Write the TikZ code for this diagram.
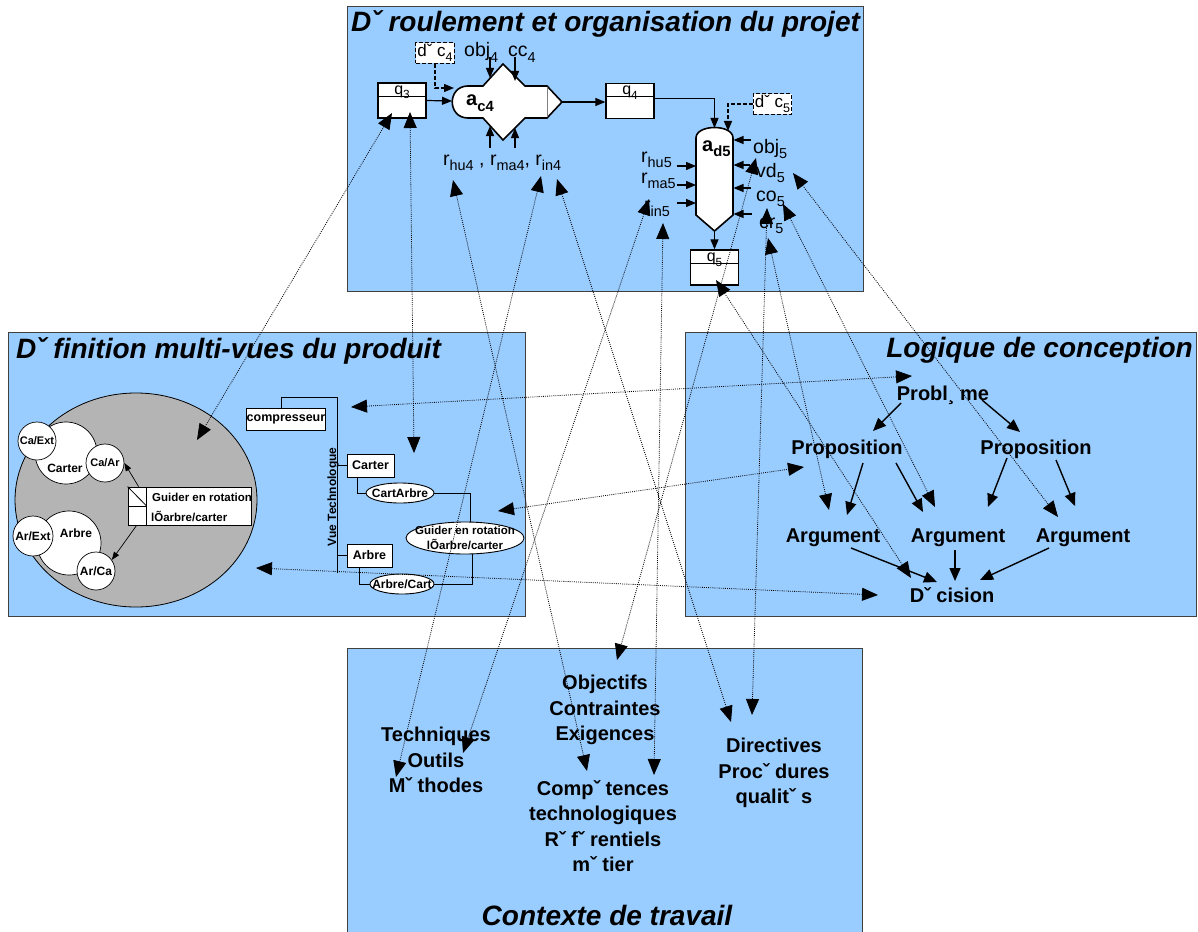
\documentclass[tikz,border=0pt]{standalone}
\usepackage{fontspec}
\setmainfont{Liberation Sans}
\usetikzlibrary{arrows.meta,shapes.geometric,calc}

\definecolor{paneblue}{HTML}{99CCFF}
\definecolor{globegray}{HTML}{B4B4B4}

\newcommand\lowsub[1]{\raisebox{-0.55ex}{\scalebox{0.74}{#1}}}

\tikzset{
  pane/.style={draw=black!75, line width=1pt, fill=paneblue},
  panetitle/.style={inner sep=0pt, font=\fontsize{28}{30}\selectfont\bfseries\itshape},
  qbox/.style={draw, fill=white, line width=1.3pt, minimum width=48pt, minimum height=35pt, inner sep=0pt},
  qlab/.style={inner sep=0pt, anchor=base, font=\fontsize{16}{16}\selectfont},
  decbox/.style={draw, fill=white, line width=1.3pt, dash pattern=on 4pt off 2pt, inner sep=1.5pt, font=\fontsize{17}{17}\selectfont},
  act/.style={draw, fill=white, line width=1.6pt, line join=miter},
  actlab/.style={inner sep=0pt, anchor=base west, font=\fontsize{20}{20}\selectfont\bfseries},
  res/.style={inner sep=0pt, anchor=base west, font=\fontsize{19.5}{19.5}\selectfont},
  flow/.style={line width=1.2pt, -{Triangle[length=10pt,width=8pt]}},
  ctl/.style={line width=1.3pt, dash pattern=on 4pt off 2pt, -{Triangle[length=10pt,width=8pt]}},
  part/.style={circle, draw, fill=white, line width=0.7pt, inner sep=0pt, font=\fontsize{11}{11}\selectfont\bfseries},
  plab/.style={inner sep=0pt, font=\fontsize{12}{12}\selectfont\bfseries},
  flab/.style={inner sep=0pt, anchor=west, font=\fontsize{11.5}{12}\selectfont\bfseries},
  thinflow/.style={line width=0.7pt, -{Triangle[length=8pt,width=6pt]}},
  tbox/.style={draw, fill=white, line width=0.9pt, inner sep=0pt, font=\fontsize{12.5}{13}\selectfont\bfseries},
  tell/.style={ellipse, draw, fill=white, line width=0.9pt, inner sep=0pt},
  tlab/.style={inner sep=0pt, font=\fontsize{12}{12}\selectfont\bfseries},
  tree/.style={line width=0.9pt},
  lword/.style={inner sep=0pt, anchor=base, font=\fontsize{20}{20}\selectfont\bfseries},
  logic/.style={line width=1.4pt, -{Triangle[length=13pt,width=11pt]}},
  ctx/.style={inner sep=0pt, align=center, font=\fontsize{20}{25.4}\selectfont\bfseries},
  link/.style={line width=0.8pt, dash pattern=on 0.9pt off 1.2pt,
    {Triangle[length=16pt,width=13pt]}-{Triangle[length=16pt,width=13pt]}}
}

\begin{document}
\begin{tikzpicture}[x=1pt,y=-1pt]
\useasboundingbox (0,0) rectangle (1198,931);

% the four panels
\draw[pane] (347,7) rectangle (863,291);
\draw[pane] (8,332) rectangle (525,616);
\draw[pane] (685,332) rectangle (1196,616);
\draw[pane] (347,648) rectangle (862,936);
\node[panetitle, anchor=base west] (tproj) at (351,32) {Dˇ roulement et organisation du projet};
\node[panetitle, anchor=base west] (tprod) at (16,358) {Dˇ finition multi-vues du produit};
\node[panetitle, anchor=base east] (tlog) at (1193,357) {Logique de conception};
\node[panetitle, anchor=base] (tctx) at (607,925) {Contexte de travail};

% project process
\node[qbox] (q3) at (402,100.5) {};
\node[qbox] (q4) at (630,101) {};
\node[qbox] (q5) at (714.5,267.5) {};
\foreach \q/\n in {q3/3,q4/4,q5/5} {
  \draw[line width=1pt] ([yshift=-14pt]\q.north west) -- ([yshift=-14pt]\q.north east);
  \node[qlab] at ([yshift=-12pt]\q.north) {q\lowsub{\n}};
}
\node[decbox] (dc4) at (435,53) {dˇ c\lowsub{4}};
\node[decbox] (dc5) at (772.5,104) {dˇ c\lowsub{5}};

\draw[act] (468,86) -- (483,86) -- (503,64) -- (525,86) -- (547,86) -- (562,102) -- (547,118)
  -- (525,118) -- (503,140) -- (483,118) -- (468,118) .. controls (447,118) and (447,86) .. (468,86) -- cycle;
\draw[gray, line width=0.6pt] (547,87) -- (547,117);
\coordinate (ac4) at (503,102);
\coordinate (ac4w) at (452,101);
\coordinate (ac4e) at (562,102);
\node[actlab] (ac4lab) at (466,106) {a\lowsub{c4}};

\draw[act] (696,138) .. controls (696,124) and (733,124) .. (733,138) -- (733,215) -- (714.5,231) -- (696,215) -- cycle;
\coordinate (ad5) at (714.5,180);
\coordinate (ad5b) at (714.5,231);
\node[actlab] (ad5lab) at (702,151) {a\lowsub{d5}};

\draw[flow] (q3.east) -- (ac4w);
\draw[ctl] (dc4.south) |- ($(ac4w)+(2,-13)$);
\draw[flow] (ac4e) -- (ac4e -| q4.west);
\draw[flow, line width=1pt] ([yshift=2pt]q4.east) -| ($(ad5)+(0,-52)$);
\draw[ctl] (dc5.west) -| ($(ad5)+(13.5,-49)$);
\draw[flow] (ad5b) -- (q5.north);

\node[res] (obj4) at (464,57) {obj\lowsub{4}};
\node[res] (cc4) at (508,57) {cc\lowsub{4}};
\node[res] (r4) at (443,165) {r\lowsub{hu4} , r\lowsub{ma4}, r\lowsub{in4}};
\foreach \xx/\ya/\yb in {-13/-45/-24, 12/-45/-21, -13/46/24, 12/46/26}
  \draw[flow] ($(ac4)+(\xx,\ya)$) -- ($(ac4)+(\xx,\yb)$);

\node[res] (rhu5) at (641,162) {r\lowsub{hu5}};
\node[res] (rma5) at (641,183) {r\lowsub{ma5}};
\node[res] (rin5) at (644,211) {r\lowsub{in5}};
\node[res] (obj5) at (753,153) {obj\lowsub{5}};
\node[res] (vd5) at (756,177) {vd\lowsub{5}};
\node[res] (co5) at (756,201) {co\lowsub{5}};
\node[res] (cr5) at (759,228) {cr\lowsub{5}};
\foreach \yy in {-14,5,23}
  \draw[flow] ($(ad5)+(-38,\yy)$) -- ($(ad5)+(-18.5,\yy)$);
\foreach \yy/\xx in {-40/36,-15/35,8/36,34/37}
  \draw[flow] ($(ad5)+(\xx,\yy)$) -- ($(ad5)+(19,\yy)$);

% product views
\node[ellipse, draw, fill=globegray, line width=0.8pt, minimum width=242pt, minimum height=214pt, inner sep=0pt] (prod) at (136,500) {};
\node[part, minimum size=62pt] (carter) at (66,453) {};
\node[part, minimum size=38pt] (caext) at (37,441) {Ca/Ext};
\node[part, minimum size=38pt] (caar) at (105,463) {Ca/Ar};
\node[plab] at (65,468) {Carter};
\node[part, minimum size=64pt] (arbre) at (69,543) {};
\node[part, minimum size=40pt, font=\fontsize{12}{12}\selectfont\bfseries] (arext) at (33,536) {Ar/Ext};
\node[part, minimum size=38pt, font=\fontsize{12}{12}\selectfont\bfseries] (arca) at (96,571) {Ar/Ca};
\node[plab] at (76,533) {Arbre};

\node[draw, fill=white, line width=0.8pt, minimum width=123pt, minimum height=38pt, inner sep=0pt] (fn) at (189.5,506) {};
\draw[line width=0.8pt] ([xshift=19pt]fn.north west) -- ([xshift=19pt]fn.south west);
\draw[line width=0.8pt] (fn.west) -- ([xshift=19pt]fn.west);
\draw[line width=0.8pt] (fn.north west) -- ([xshift=19pt]fn.west);
\node[flab] at (152,497) {Guider en rotation};
\node[flab] at (151,516) {lÕarbre/carter};
\draw[thinflow] ([xshift=11pt]fn.north west) -- (caar.east);
\draw[thinflow] ([xshift=9pt]fn.south west) -- (arca.35);

\node[tbox, minimum width=78pt, minimum height=22pt] (tcomp) at (286,419) {compresseur};
\node[tbox, minimum width=47pt, minimum height=23pt] (tcart) at (370.5,465.5) {Carter};
\node[tbox, minimum width=45pt, minimum height=23pt] (tarb) at (369.5,555.5) {Arbre};
\node[tell, minimum width=68pt, minimum height=20pt] (tca) at (400,493) {};
\node[tlab] at (tca) {CartArbre};
\node[tell, minimum width=64pt, minimum height=20pt] (tac) at (402,584) {};
\node[tlab] at (tac) {Arbre/Cart};
\node[tell, minimum width=118pt, minimum height=32pt] (tguide) at (465,538) {};
\node[tlab, align=center, font=\fontsize{11.5}{15}\selectfont\bfseries] at (tguide) {Guider en rotation\\lÕarbre/carter};
\node[tlab, rotate=90] (vue) at (333,497) {Vue Technologue};
\coordinate (vtop) at (337,397);
\coordinate (vbot) at (337,573);
\draw[tree] ([xshift=-5pt]tcomp.north) |- (vtop) -- (vbot);
\draw[tree] (vtop |- tcart.west) -- (tcart.west);
\draw[tree] (vtop |- tarb.west) -- (tarb.west);
\draw[tree] ([xshift=-13.5pt]tcart.south) |- (tca.west);
\draw[tree] (tca.east) -| ([xshift=5pt]tguide.north);
\draw[tree] ([xshift=-10.5pt]tarb.south) |- (tac.west);
\draw[tree] (tac.east) -| ([xshift=7pt]tguide.south);

% design rationale
\node[lword] (prob) at (943,400) {Probl¸ me};
\node[lword] (propl) at (847,454) {Proposition};
\node[lword] (propr) at (1036,454) {Proposition};
\node[lword] (arg1) at (833,542) {Argument};
\node[lword] (arg2) at (958,542) {Argument};
\node[lword] (arg3) at (1083,542) {Argument};
\node[lword] (dec) at (952,602) {Dˇ cision};
\draw[logic] ($(prob.base)+(-42,3)$) -- ($(propl.base)+(26,-23)$);
\draw[logic] ($(prob.base)+(39,0)$) -- ($(propr.base)+(-16,-22)$);
\draw[logic] ($(propl.base)+(16,9)$) -- ($(arg1.base)+(14,-27)$);
\draw[logic] ($(propl.base)+(49,9)$) -- ($(arg2.base)+(-35,-30)$);
\draw[logic] ($(propr.base)+(-29,4)$) -- ($(arg2.base)+(30,-35)$);
\draw[logic] ($(propr.base)+(20,6)$) -- ($(arg3.base)+(-8,-36)$);
\draw[logic] ($(arg1.base)+(18,6)$) -- ($(dec.base)+(-15,-20)$);
\draw[logic] ($(arg2.base)+(-3,8)$) -- ($(dec.base)+(3,-21)$);
\draw[logic] ($(arg3.base)+(-34,6)$) -- ($(dec.base)+(28,-22)$);

% work context
\node[ctx] (goals) at (605,710) {Objectifs\\Contraintes\\Exigences};
\node[ctx] (tools) at (436,760) {Techniques\\Outils\\Mˇ thodes};
\node[ctx] (skills) at (603,826) {Compˇ tences\\technologiques\\Rˇ fˇ rentiels\\mˇ tier};
\node[ctx] (rules) at (774,773) {Directives\\Procˇ dures\\qualitˇ s};

% cross links
\coordinate (q3sw) at (392,113);   \coordinate (globe) at (197,440);
\coordinate (q3s) at (410,112);    \coordinate (cartup) at (414,453);
\coordinate (thu4) at (453,180);   \coordinate (kskill) at (587,771);
\coordinate (tin4a) at (541,176);  \coordinate (kmeth) at (396,777);
\coordinate (tin5) at (649,199);   \coordinate (ktool) at (463,753);
\coordinate (tin4b) at (557,179);  \coordinate (kdir) at (731,722);
\coordinate (tin5v) at (663,223);  \coordinate (kexig) at (654,775);
\coordinate (tvd5a) at (756,158);  \coordinate (kgoal) at (617,660);
\coordinate (tvd5b) at (793,173);  \coordinate (karg3) at (1058,517);
\coordinate (tco5) at (783,204);   \coordinate (karg2) at (935,507);
\coordinate (tcr5a) at (767,208);  \coordinate (kproc) at (752,715);
\coordinate (tcr5b) at (768,238);  \coordinate (karg1) at (829,510);
\coordinate (tq5) at (716,280);    \coordinate (kdec) at (911,578);
\coordinate (vcomp) at (351,407);  \coordinate (kprob) at (912,376);
\coordinate (vguide) at (498,511); \coordinate (kprop) at (804,467);
\coordinate (vglobe) at (256,568); \coordinate (kdecl) at (878,595);
\foreach \a/\b in {q3sw/globe, q3s/cartup, thu4/kskill, tin4a/kmeth, tin5/ktool,
    tin4b/kdir, tin5v/kexig, tvd5a/kgoal, tvd5b/karg3, tco5/karg2, tcr5a/kproc,
    tcr5b/karg1, tq5/kdec, vcomp/kprob, vguide/kprop, vglobe/kdecl}
  \draw[link] (\a) -- (\b);
\end{tikzpicture}
\end{document}
